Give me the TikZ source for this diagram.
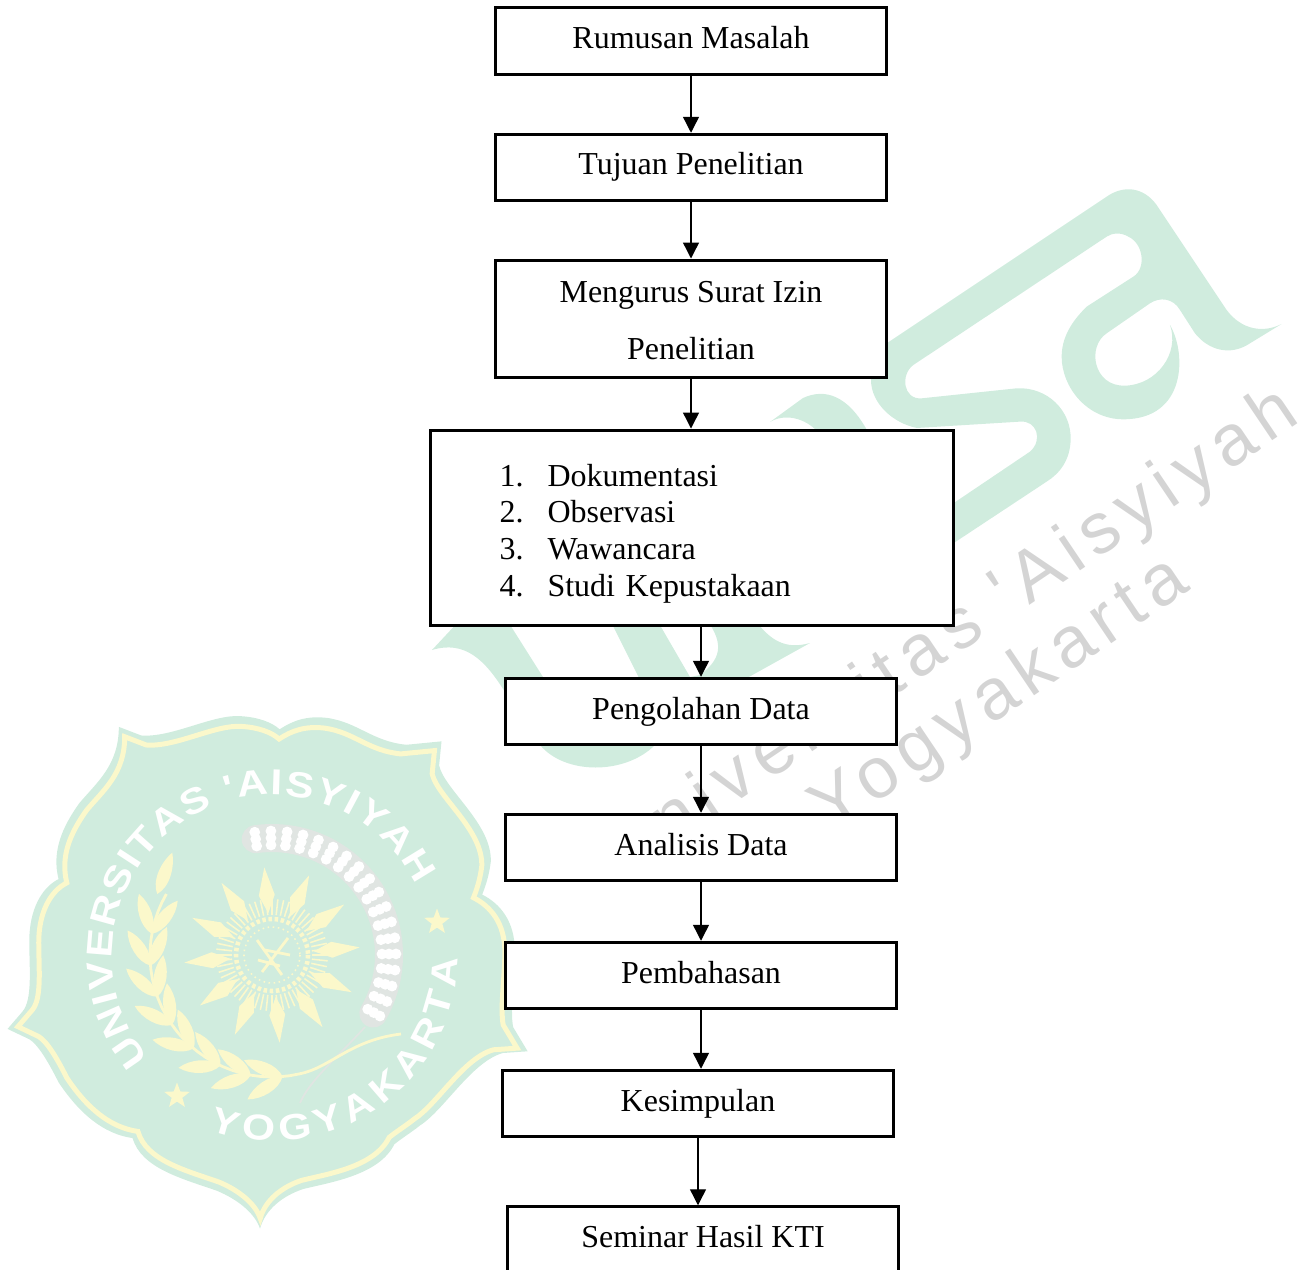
\documentclass[tikz,border=0pt]{standalone}
\usepackage{fontspec}
\usepackage{xcolor}
\setmainfont{Liberation Serif}
\newfontfamily\markfont[LetterSpace=12]{Liberation Sans}
\newfontfamily\sealfont[FakeStretch=1.18]{Liberation Sans}
\usetikzlibrary{arrows.meta,shapes.geometric,decorations.text}
\definecolor{sealgreen}{HTML}{D0ECDE}
\definecolor{sealyellow}{HTML}{FBF8CB}
\definecolor{markgray}{HTML}{D4D4D4}
\definecolor{ricegray}{HTML}{E0E5E2}
\tikzset{
    flowbox/.style={draw=black, fill=white, line width=1.7pt, minimum width=7.82cm, minimum height=1.33cm,
        text height=0.62cm, text depth=0.32cm, align=center, inner sep=0pt, font=\fontsize{18.2pt}{33pt}\selectfont},
    flowarrow/.style={line width=0.75pt, -{Triangle[length=0.32cm,width=0.32cm]}},
    sealtext/.style={decorate, decoration={text along path, text align=fit to path, text={#1}}}
}
\newcommand{\sealoutline}{(345,78) -- (410,103) .. controls (500,110) and (620,40) .. (700,47)
    .. controls (750,50) and (790,65) .. (812,85) .. controls (850,60) and (890,45) .. (950,52)
    .. controls (1040,65) and (1080,120) .. (1180,130) -- (1282,120) -- (1275,190)
    .. controls (1290,260) and (1430,360) .. (1425,470) .. controls (1420,510) and (1410,540) .. (1400,565)
    .. controls (1450,590) and (1495,640) .. (1495,730) .. controls (1495,800) and (1480,900) .. (1490,950)
    -- (1532,1020) -- (1460,1025) .. controls (1370,1050) and (1290,1190) .. (1220,1235)
    .. controls (1195,1255) and (1170,1270) .. (1145,1290) .. controls (1100,1380) and (960,1400) .. (880,1420)
    .. controls (820,1440) and (770,1480) .. (755,1535) .. controls (740,1490) and (690,1450) .. (630,1425)
    .. controls (530,1390) and (410,1360) .. (385,1272) .. controls (300,1260) and (230,1200) .. (170,1110)
    .. controls (140,1050) and (110,1000) .. (85,985) -- (22,955) -- (65,905)
    .. controls (95,870) and (85,780) .. (85,700) .. controls (85,610) and (120,545) .. (170,520)
    .. controls (150,440) and (180,370) .. (230,300) .. controls (280,240) and (345,190) .. (345,78) -- cycle}
\newcommand{\itemnum}[1]{\makebox[0.96cm][l]{#1.}}

\begin{document}
\begin{tikzpicture}[x=0.02cm, y=-0.02cm]
    \useasboundingbox (0,0) rectangle (1311,1270);
    \clip (0,0) rectangle (1311,1270);

    % Logo behind the boxes
    \begin{scope}[shift={(880,180)}, scale=0.3333]
        \fill[sealgreen] (20,490) -- (680,50) .. controls (730,15) and (790,20) .. (830,75) -- (1040,390)
            .. controls (1085,450) and (1150,460) .. (1205,432) -- (1110,490) .. controls (1050,530) and (985,510) .. (945,460)
            -- (900,390) .. controls (880,355) and (840,350) .. (810,370) -- (680,460)
            .. controls (620,500) and (640,620) .. (735,617) .. controls (830,615) and (900,520) .. (870,435)
            .. controls (920,520) and (920,718) .. (730,718) .. controls (620,718) and (545,620) .. (545,530)
            .. controls (545,460) and (590,410) .. (620,380) -- (760,290) .. controls (800,265) and (790,190) .. (745,170)
            .. controls (720,155) and (695,160) .. (680,170) -- (100,555) .. controls (60,585) and (70,660) .. (125,655)
            -- (410,625) .. controls (500,620) and (575,690) .. (572,780) .. controls (570,840) and (540,880) .. (500,905)
            -- (220,1090) -- (220,970) -- (450,815) .. controls (490,780) and (470,720) .. (420,725) -- (111,744)
            .. controls (39,730) and (-27,670) .. (-27,600) .. controls (-27,560) and (-10,510) .. (20,490) -- cycle;
    \end{scope}
    \fill[sealgreen] (770,422) -- (803,398) .. controls (825,388) and (848,395) .. (868,432) -- (818,432)
        .. controls (805,418) and (785,413) .. (770,422) -- cycle;
    \fill[sealgreen] (432,650) .. controls (465,640) and (485,660) .. (505,692) -- (540,745)
        .. controls (565,775) and (625,775) .. (655,745) -- (747,678) -- (810,643)
        .. controls (785,650) and (770,640) .. (755,620) -- (707,620) .. controls (725,645) and (720,660) .. (700,675)
        -- (690,677) -- (657,620) -- (610,620) -- (645,690) .. controls (640,720) and (575,720) .. (560,700)
        -- (543,677) -- (507,620) -- (460,620) -- cycle;

    % Logo wording
    \node[rotate=34, anchor=base east, text=markgray, font=\markfont\fontsize{41pt}{41pt}\selectfont] (markname) at (1307,418) {Universitas 'Aisyiyah};
    \node[rotate=34, anchor=base east, text=markgray, font=\markfont\fontsize{41pt}{41pt}\selectfont] (markcity) at (1197,586) {Yogyakarta};

    % Seal
    \begin{scope}[shift={(0,700)}, scale=0.3444]
        \fill[sealgreen] \sealoutline;
    \end{scope}
    \begin{scope}[shift={(265.2,972.1)}, scale=0.3306, shift={(-770,-790)}]
        \draw[sealyellow, line width=1mm, line join=miter] \sealoutline;
    \end{scope}
    \node[star, star points=5, star point ratio=2.4, fill=sealyellow, minimum size=0.54cm, inner sep=0pt] (starright) at (437,922) {};
    \node[star, star points=5, star point ratio=2.4, fill=sealyellow, minimum size=0.54cm, inner sep=0pt] (starleft) at (177,1096) {};
    \path[sealtext={|\sealfont\bfseries\fontsize{20.5pt}{20.5pt}\selectfont\color{white}|UNIVERSITAS 'AISYIYAH}]
        plot[domain=220:26, samples=90] ({272+160*cos(\x)},{955-160*sin(\x)});
    \path[sealtext={|\sealfont\bfseries\fontsize{20.5pt}{20.5pt}\selectfont\color{white}|YOGYAKARTA}]
        plot[domain=250:359, samples=70] ({272+186*cos(\x)},{955-186*sin(\x)});

    % Sun
    \foreach \a in {5,35,...,335} {
        \fill[sealyellow, shift={(272,955)}, rotate=\a] (42,0) -- (60,-8) -- (88,0) -- (60,8) -- cycle;
    }
    \foreach \a in {0,6,...,354} {
        \draw[sealyellow, line width=0.9pt] ({272+34*cos(\a)},{955-34*sin(\a)}) -- ({272+56*cos(\a)},{955-56*sin(\a)});
    }
    \fill[sealgreen] (272,955) circle (40);
    \draw[sealyellow, line width=2.6pt, dash pattern=on 2pt off 1.5pt] (272,955) circle (36);
    \draw[sealyellow, line width=0.9pt, dotted] (272,955) circle (28);
    \draw[sealyellow, line width=1.6pt] (257,940) -- (282,975) (262,972) -- (288,938) (265,950) -- (290,955) (258,960) -- (280,966);

    % Rice
    \draw[ricegray, line width=0.56cm, line cap=round] plot[domain=98:-30, samples=40] ({272+117*cos(\x)},{955-117*sin(\x)});
    \foreach \a in {98,90.5,...,-30} {
        \foreach \r in {110,117,124} {
            \fill[white] ({272+\r*cos(\a)},{955-\r*sin(\a)}) circle (5.4);
        }
    }
    \draw[ricegray, line width=1pt] (365,1027) .. controls (335,1060) and (310,1080) .. (300,1103);

    % Wreath
    \draw[sealyellow, line width=1.6pt] plot[domain=150:283, samples=30] ({272+122*cos(\x)},{955-122*sin(\x)})
        .. controls (330,1068) and (350,1040) .. (401,1034);
    \fill[sealyellow, shift={({272+130*cos(152)},{955-130*sin(152)})}, rotate=70] (0,0) .. controls (10,-9) and (30,-8) .. (44,0) .. controls (30,8) and (10,9) .. (0,0) -- cycle;
    \foreach \a in {170,185,200,215,230,245,260,275} {
        \fill[sealyellow, shift={({272+122*cos(\a)},{955-122*sin(\a)})}, rotate={\a-90+28}] (0,0) .. controls (10,-9) and (30,-8) .. (42,0) .. controls (30,8) and (10,9) .. (0,0) -- cycle;
        \fill[sealyellow, shift={({272+122*cos(\a)},{955-122*sin(\a)})}, rotate={\a-90-28}] (0,0) .. controls (10,-9) and (30,-8) .. (42,0) .. controls (30,8) and (10,9) .. (0,0) -- cycle;
    }

    % Boxes
    \node[flowbox] (rumusan) at (691,41) {Rumusan Masalah};
    \node[flowbox] (tujuan) at (691,167.5) {Tujuan Penelitian};
    \node[flowbox, minimum height=2.36cm, text height=1.94cm, text depth=0.3cm] (izin) at (691,319) {Mengurus Surat Izin\\Penelitian};
    \node[flowbox, minimum width=10.46cm, minimum height=3.92cm, text width=7.7cm, inner xsep=1.38cm, align=left,
        text height=0.34cm, text depth=2.02cm, font=\fontsize{18.2pt}{21pt}\selectfont] (metode) at (692,528) {\itemnum{1}Dokumentasi\\\itemnum{2}Observasi\\\itemnum{3}Wawancara\\\itemnum{4}Studi Kepustakaan};
    \node[flowbox] (olah) at (701,711.5) {Pengolahan Data};
    \node[flowbox] (analisis) at (701,847.5) {Analisis Data};
    \node[flowbox] (bahas) at (701,975.5) {Pembahasan};
    \node[flowbox] (simpulan) at (698,1103.5) {Kesimpulan};
    \node[flowbox] (seminar) at (703,1240) {Seminar Hasil KTI};

    % Arrows
    \draw[flowarrow] (rumusan) -- (tujuan);
    \draw[flowarrow] (tujuan) -- (izin);
    \draw[flowarrow] (izin.south) -- (izin.south |- metode.north);
    \draw[flowarrow] (olah.north |- metode.south) -- (olah.north);
    \draw[flowarrow] (olah) -- (analisis);
    \draw[flowarrow] (analisis) -- (bahas);
    \draw[flowarrow] (bahas.south) -- (bahas.south |- simpulan.north);
    \draw[flowarrow] (simpulan.south) -- (simpulan.south |- seminar.north);
\end{tikzpicture}
\end{document}
